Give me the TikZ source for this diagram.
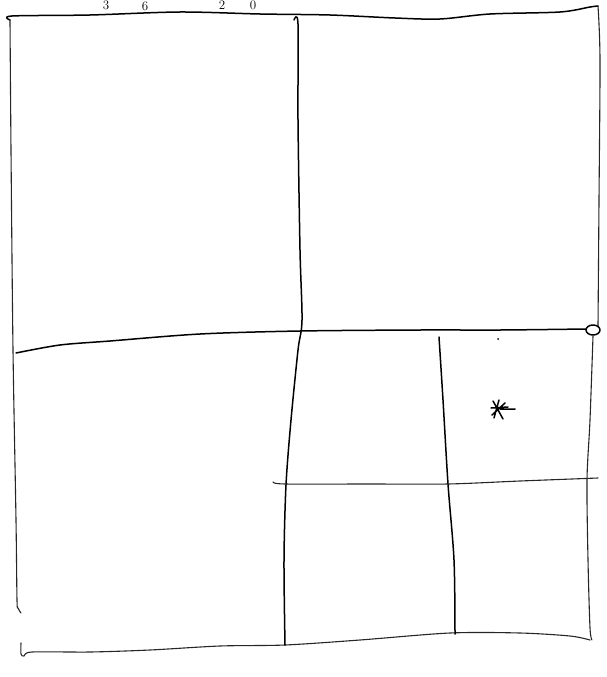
\documentclass[tikz,border=0pt]{standalone}
\usetikzlibrary{calc}
\begin{document}
\begin{tikzpicture}[x=1pt,y=-1pt,
  pen/.style={line width=1.5pt,line cap=round,line join=round},
  faint/.style={line width=1.1pt,line cap=round,black!85},
  scrib/.style={font=\fontsize{13}{13}\selectfont,inner sep=0pt}]
\useasboundingbox (0,0) rectangle (606,677);
% handwritten figures at the top
\node[scrib] (t3) at (106,5) {3};
\node[scrib] (t6) at (145,6) {6};
\node[scrib] (t2) at (222,5) {2};
\node[scrib] (t0) at (253,5) {0};
% outer border: top
\draw[pen] plot[smooth,tension=0.5] coordinates {(10,20) (12,16) (90,15) (180,12) (260,14) (330,15) (395,18) (440,19) (490,14) (560,12) (590,7) (598,6)};
% right edge
\draw[faint] plot[smooth,tension=0.5] coordinates {(598,6) (600,60) (599,200) (598,326)};
\draw[faint] plot[smooth,tension=0.5] coordinates {(593,336) (590,420) (587,480) (588,560) (590,628) (592,640)};
% left edge
\draw[faint] plot[smooth,tension=0.5] coordinates {(10,20) (11,150) (13,350) (16,520) (17,600) (18,608) (21,613)};
% bottom edge (separate stroke)
\draw[faint] plot[smooth,tension=0.5] coordinates {(21,643) (21,654) (24,656) (32,652) (90,652) (150,650) (220,646) (285,645) (360,640) (450,633) (520,633) (570,636) (590,640)};
% middle vertical
\draw[pen] plot[smooth,tension=0.5] coordinates {(294,20) (298,24) (298,120) (300,250) (302,320) (298,350) (291,420) (286,485) (284,560) (285,645)};
% main horizontal
\draw[pen] plot[smooth,tension=0.5] coordinates {(16,353) (60,345) (110,341) (200,334) (300,331) (420,330) (500,330) (586,329)};
% small circle on the right edge
\draw[pen] (593,330) ellipse [x radius=7,y radius=5];
% inner vertical
\draw[pen] plot[smooth,tension=0.5] coordinates {(439,337) (443,400) (448,484) (454,560) (455,634)};
% inner horizontal
\draw[faint] plot[smooth,tension=0.5] coordinates {(273,482) (285,484) (370,484) (448,484) (520,481) (598,478)};
% asterisk mark
\coordinate (st) at (499,410);
\draw[line width=1.5pt,line cap=round] ($(st)+(-6,-9)$) -- ($(st)+(4,9)$)
  ($(st)+(-8,-2)$) -- ($(st)+(9,-3)$)
  ($(st)+(-7,5)$) -- ($(st)+(6,-7)$)
  ($(st)+(-5,8)$) -- ($(st)+(0,-10)$)
  ($(st)+(1,-1)$) -- ($(st)+(16,-1)$);
\fill (498,339) circle (1);
\end{tikzpicture}
\end{document}
